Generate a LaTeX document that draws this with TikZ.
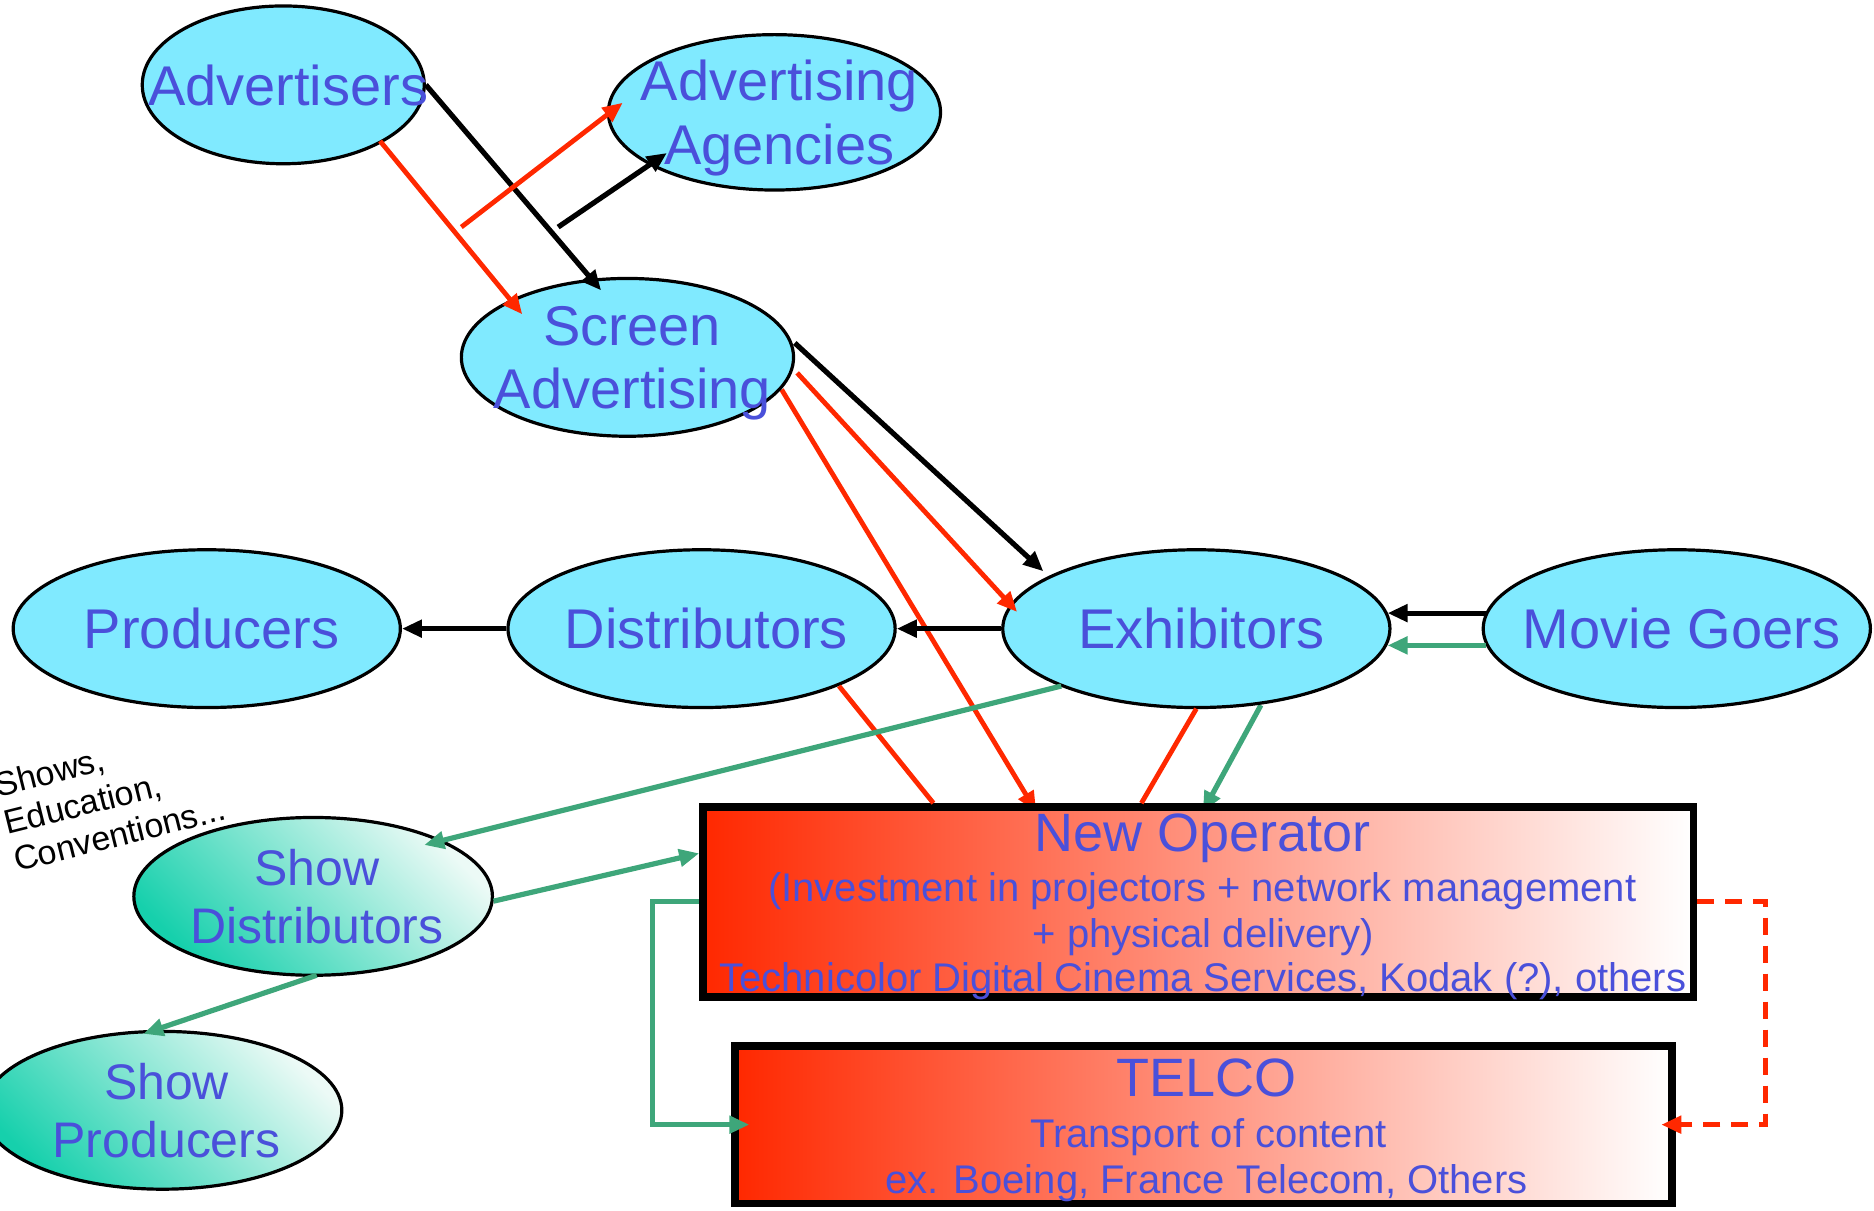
\documentclass[tikz,border=0pt]{standalone}
\usepackage{fontspec}
\setmainfont{Liberation Sans}
\usetikzlibrary{shapes.geometric,arrows.meta,backgrounds}
\definecolor{cyanfill}{RGB}{128,234,255}
\definecolor{txtblue}{RGB}{74,80,218}
\definecolor{lnred}{RGB}{255,40,0}
\definecolor{lngreen}{RGB}{62,166,122}
\definecolor{tealdark}{RGB}{22,208,172}
\definecolor{teallight}{RGB}{236,250,246}
\begin{document}
\begin{tikzpicture}[x=0.5976pt,y=-0.5976pt,
  ell/.style={ellipse, draw=black, line width=1.6pt, fill=cyanfill, inner sep=0pt, minimum height=78.9pt},
  showell/.style={ellipse, draw=black, line width=1.6pt, inner sep=0pt, minimum height=78.9pt, minimum width=179.3pt, bottom color=tealdark, top color=teallight, shading angle=-45},
  lbl/.style={text=txtblue, font=\fontsize{28}{31.7}\selectfont, align=center, inner sep=0pt, text depth=0pt, xshift=2.4pt},
  slbl/.style={text=txtblue, font=\fontsize{25}{29.3}\selectfont, align=center, inner sep=0pt, text depth=0pt, xshift=2pt},
  opbox/.style={rectangle, draw=black, line width=3.8pt, inner sep=0pt, left color=lnred, right color=white},
  ttl/.style={text=txtblue, font=\fontsize{27}{30}\selectfont, anchor=base, inner sep=0pt},
  subtxt/.style={text=txtblue, font=\fontsize{20}{22.5}\selectfont, anchor=base, inner sep=0pt},
  arrowend/.style={-{Triangle[length=10pt,width=8.5pt]}},
  blk/.style={draw=black, line width=2.6pt},
  rd/.style={draw=lnred, line width=2.4pt},
  gr/.style={draw=lngreen, line width=2.6pt},
]
\useasboundingbox (0,0) rectangle (1568,1013);
\begin{pgfonlayer}{background}
\fill[white] (0,0) rectangle (1568,1013);
\end{pgfonlayer}

% ellipses
\node[ell, minimum width=141pt, label={[lbl]center:Advertisers}] (adv) at (237,71) {};
\node[ell, minimum width=166.1pt, minimum height=77.7pt, label={[lbl]center:{Advertising\\Agencies}}] (agc) at (648,94) {};
\node[ell, minimum width=166.1pt, label={[lbl]center:{Screen\\Advertising}}] (scr) at (525,299) {};
\node[ell, minimum width=193.6pt, label={[lbl]center:Producers}] (prod) at (173,526) {};
\node[ell, minimum width=193.6pt, label={[lbl]center:Distributors}] (dist) at (587,526) {};
\node[ell, minimum width=193.6pt, label={[lbl]center:Exhibitors}] (exh) at (1001,526) {};
\node[ell, minimum width=193.6pt, label={[lbl]center:Movie Goers}] (mg) at (1403,526) {};
\node[showell, label={[slbl]center:{Show\\Distributors}}] (sdist) at (262,750) {};
\node[showell, label={[slbl]center:{Show\\Producers}}] (sprod) at (136,929) {};

% boxes
\node[opbox, minimum width=495.4pt, minimum height=95pt] (newop) at (1002.5,754.5) {};
\node[opbox, minimum width=468.5pt, minimum height=78.9pt] (telco) at (1007,941) {};

\node[ttl] (nt) at ([shift={(4,-42)}]newop.center) {New Operator};
\node[subtxt] (n1) at ([shift={(3.5,-0.5)}]newop.center) {(Investment in projectors + network management};
\node[subtxt] (n2) at ([shift={(4.5,38)}]newop.center) {+ physical delivery)};
\node[subtxt] (n3) at ([shift={(4,75.5)}]newop.center) {Technicolor Digital Cinema Services, Kodak (?), others};
\node[ttl] (tt) at ([shift={(2.5,-23.5)}]telco.center) {TELCO};
\node[subtxt] (t1) at ([shift={(4,19.5)}]telco.center) {Transport of content};
\node[subtxt] (t2) at ([shift={(2.5,57.5)}]telco.center) {ex. Boeing, France Telecom, Others};

% side label
\node[rotate=14, anchor=north west, align=left, inner sep=0pt, font=\fontsize{17}{19.2}\selectfont] (shows) at (-6.7,647) {Shows,\\Education,\\Conventions...};

% free starts
\coordinate (b2s) at (467,190);
\coordinate (r2s) at (386,190);

% black connectors
\draw[blk,arrowend] (adv.east) -- ([shift={(-22,-56)}]scr.center);
\draw[blk,arrowend] (b2s) -- ([shift={(-90,34)}]agc.center);
\draw[blk,arrowend] ([shift={(140,-12)}]scr.center) -- ([shift={(-128,-48)}]exh.center);
\draw[blk,arrowend] (exh.west) -- (dist.east);
\draw[blk,arrowend] (dist.west) -- (prod.east);
\draw[blk,arrowend] ([shift={(-160,-13)}]mg.center) -- ([shift={(160,-13)}]exh.center);

% red connectors
\draw[rd,arrowend] ([shift={(81,47)}]adv.center) -- ([shift={(-88,-36)}]scr.center);
\draw[rd,arrowend] (r2s) -- ([shift={(-127,-8)}]agc.center);
\draw[rd,arrowend] ([shift={(142,13)}]scr.center) -- ([shift={(-150,-14)}]exh.center);
\draw[rd] ([shift={(115,48)}]dist.center) -- ([shift={(-221.5,-82.5)}]newop.center);
\draw[rd] ([shift={(0,67)}]exh.center) -- ([shift={(-47.5,-82.5)}]newop.center);
\draw[rd,arrowend,line width=2.6pt,dash pattern=on 8.5pt off 5.5pt] (newop.east) -- ++(57,0) |- ([shift={(383,0)}]telco.center);

% green connectors
\draw[gr,arrowend] ([shift={(-160,14)}]mg.center) -- ([shift={(160,14)}]exh.center);
\draw[gr,arrowend] ([shift={(-113,48)}]exh.center) -- ([shift={(93,-43)}]sdist.center);
\draw[gr,arrowend] ([shift={(151,4)}]sdist.center) -- ([shift={(-417.5,-40.5)}]newop.center);
\draw[gr,arrowend] ([shift={(3,66)}]sdist.center) -- ([shift={(-16,-64)}]sprod.center);
\draw[gr,arrowend] (newop.west) -- ++(-39,0) |- ([shift={(-380,0)}]telco.center);

\begin{pgfonlayer}{background}
\draw[rd,arrowend] ([shift={(129,27)}]scr.center) -- ([shift={(-135.5,-75.5)}]newop.center);
\draw[gr,arrowend] ([shift={(54,64)}]exh.center) -- ([shift={(4,-75.5)}]newop.center);
\end{pgfonlayer}
\end{tikzpicture}
\end{document}
